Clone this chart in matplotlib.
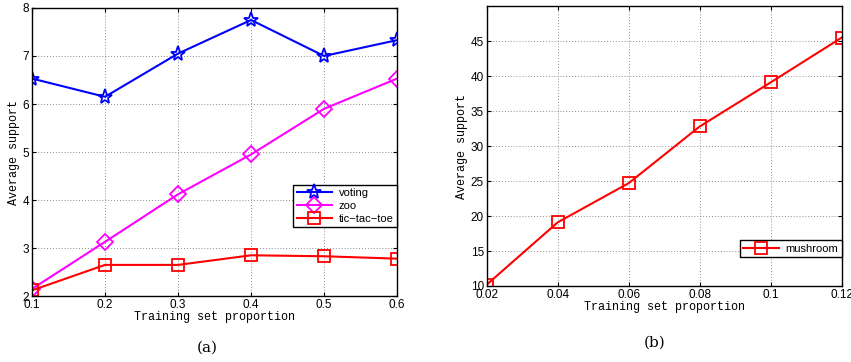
import matplotlib
matplotlib.use("Agg")
import matplotlib.pyplot as plt

x_a = [0.1, 0.2, 0.3, 0.4, 0.5, 0.6]
voting = [6.53, 6.15, 7.05, 7.75, 7.0, 7.33]
zoo = [2.15, 3.13, 4.12, 4.95, 5.9, 6.53]
tictactoe = [2.12, 2.65, 2.65, 2.85, 2.83, 2.78]

x_b = [0.02, 0.04, 0.06, 0.08, 0.1, 0.12]
mushroom = [10.2, 19.1, 24.7, 32.8, 39.1, 45.5]

plt.rcParams['font.family'] = ['Liberation Sans', 'DejaVu Sans']
plt.rcParams['font.size'] = 8.5

fig = plt.figure(figsize=(8.51, 3.62), dpi=100)
ax1 = fig.add_axes([0.0376, 0.182, 0.429, 0.796])
ax2 = fig.add_axes([0.572, 0.21, 0.417, 0.773])

ax1.plot(x_a, voting, '-*', color='#0000ff', lw=1.5, ms=11, mfc='none', mew=1.3, label='voting')
ax1.plot(x_a, zoo, '-D', color='#ff00ff', lw=1.5, ms=8, mfc='none', mew=1.3, label='zoo')
ax1.plot(x_a, tictactoe, '-s', color='#ff0000', lw=1.5, ms=8, mfc='none', mew=1.3, label='tic\u2212tac\u2212toe')
ax1.set_xlim(0.1, 0.6)
ax1.set_ylim(2, 8)
ax1.set_xticks(x_a)
ax1.set_xticklabels(['0.1', '0.2', '0.3', '0.4', '0.5', '0.6'])
ax1.set_yticks([2, 3, 4, 5, 6, 7, 8])
ax1.legend(loc='lower right', bbox_to_anchor=(1.0, 0.24), borderaxespad=0, numpoints=1,
           fancybox=False, edgecolor='black', framealpha=1, borderpad=0.3,
           labelspacing=0.25, handlelength=3.2, handletextpad=0.6, fontsize=8)

ax2.plot(x_b, mushroom, '-s', color='#ff0000', lw=1.5, ms=8, mfc='none', mew=1.3, label='mushroom')
ax2.set_xlim(0.02, 0.12)
ax2.set_ylim(10, 50)
ax2.set_xticks(x_b)
ax2.set_xticklabels(['0.02', '0.04', '0.06', '0.08', '0.1', '0.12'])
ax2.set_yticks([10, 15, 20, 25, 30, 35, 40, 45])
ax2.legend(loc='lower right', bbox_to_anchor=(1.0, 0.104), borderaxespad=0, numpoints=1,
           fancybox=False, edgecolor='black', framealpha=1, borderpad=0.3,
           handlelength=3.2, handletextpad=0.6, fontsize=8)

for ax in (ax1, ax2):
    ax.grid(True, linestyle=(0, (1, 2.5)), color='#666666', linewidth=0.6)
    ax.tick_params(direction='in', length=3, pad=2, top=True, right=True)
    ax.set_xlabel('Training set proportion', family='Liberation Mono', fontsize=8.5, labelpad=0)
    ax.set_ylabel('Average support', family='Liberation Mono', fontsize=8.5, labelpad=2)
    for s in ax.spines.values():
        s.set_linewidth(1.0)

fig.text(207/851, 1 - 348/362, '(a)', family='DejaVu Serif', fontsize=11, ha='center', va='center')
fig.text(655/851, 1 - 343/362, '(b)', family='DejaVu Serif', fontsize=11, ha='center', va='center')

fig.savefig('out.png', dpi=100)
